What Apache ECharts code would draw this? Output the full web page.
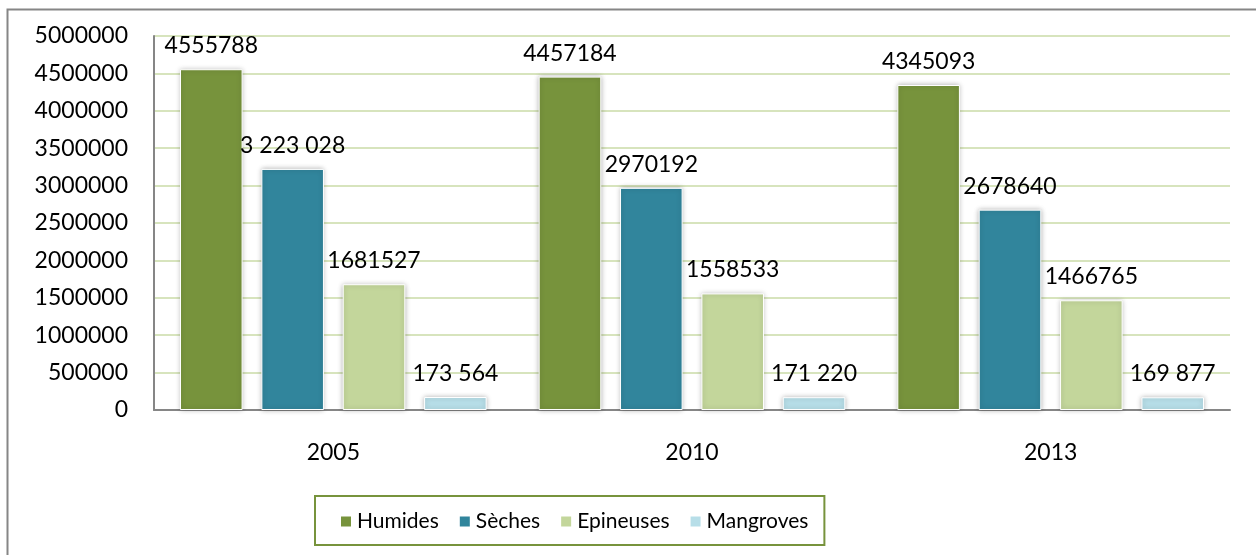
<!DOCTYPE html>
<html>
<head>
<meta charset="utf-8">
<script src="https://cdn.jsdelivr.net/npm/echarts@6/dist/echarts.min.js"></script>
<style>
  html, body { margin: 0; padding: 0; background: #fff; }
  #chart { width: 1256px; height: 555px; }
</style>
</head>
<body>
<div id="chart"></div>
<script>
const years = ['2005', '2010', '2013'];
const seriesNames = ['Humides', 'Sèches', 'Epineuses', 'Mangroves'];
const humides = [4555788, 4457184, 4345093];
const seches = [3223028, 2970192, 2678640];
const epineuses = [1681527, 1558533, 1466765];
const mangroves = [173564, 171220, 169877];
// labels as printed on the source (some with thousand spaces)
const humidesLabels = ['4555788', '4457184', '4345093'];
const sechesLabels = ['3 223 028', '2970192', '2678640'];
const epineusesLabels = ['1681527', '1558533', '1466765'];
const mangrovesLabels = ['173 564', '171 220', '169 877'];

const colors = ['#77933c', '#31859c', '#c3d69b', '#b7dee8'];
const font = 'Lato, "Liberation Sans", sans-serif';

const chart = echarts.init(document.getElementById('chart'));

function makeSeries(name, values, labels, color) {
  return {
    name: name,
    type: 'bar',
    data: values,
    barGap: '30%',
    barCategoryGap: '14.5%',
    itemStyle: {
      color: color,
      borderColor: '#ffffff',
      borderWidth: 1,
      shadowColor: 'rgba(0,0,0,0.28)',
      shadowBlur: 5
    },
    label: {
      show: true,
      position: 'top',
      distance: 12,
      color: '#000',
      fontFamily: font,
      fontSize: 23,
      formatter: function (p) { return labels[p.dataIndex]; }
    }
  };
}

const option = {
  animation: false,
  backgroundColor: '#ffffff',
  color: colors,
  graphic: [{
    type: 'rect',
    left: 5,
    top: 7,
    shape: { width: 1300, height: 600 },
    style: { fill: 'none', stroke: '#868686', lineWidth: 2 },
    silent: true
  }],
  grid: {
    left: 154,
    right: 26,
    top: 36,
    bottom: 145
  },
  legend: {
    data: seriesNames,
    left: 315,
    top: 496,
    padding: [15, 16, 13, 24],
    borderColor: '#77933c',
    borderWidth: 2,
    itemWidth: 12,
    itemHeight: 12,
    itemGap: 19,
    icon: 'rect',
    textStyle: {
      fontFamily: font,
      fontSize: 21,
      color: '#000'
    }
  },
  xAxis: {
    type: 'category',
    data: years,
    axisLine: { lineStyle: { color: '#868686', width: 2 } },
    axisTick: { show: false },
    axisLabel: {
      margin: 31,
      color: '#000',
      fontFamily: font,
      fontSize: 23
    }
  },
  yAxis: {
    type: 'value',
    min: 0,
    max: 5000000,
    interval: 500000,
    axisLine: { show: true, lineStyle: { color: '#868686', width: 2 } },
    axisTick: { show: false },
    axisLabel: {
      margin: 26,
      color: '#000',
      fontFamily: font,
      fontSize: 23,
      formatter: function (v) { return String(v); }
    },
    splitLine: { lineStyle: { color: '#d7e4bd', width: 2 } }
  },
  series: [
    makeSeries(seriesNames[0], humides, humidesLabels, colors[0]),
    makeSeries(seriesNames[1], seches, sechesLabels, colors[1]),
    makeSeries(seriesNames[2], epineuses, epineusesLabels, colors[2]),
    makeSeries(seriesNames[3], mangroves, mangrovesLabels, colors[3])
  ]
};

chart.setOption(option);
</script>
</body>
</html>
